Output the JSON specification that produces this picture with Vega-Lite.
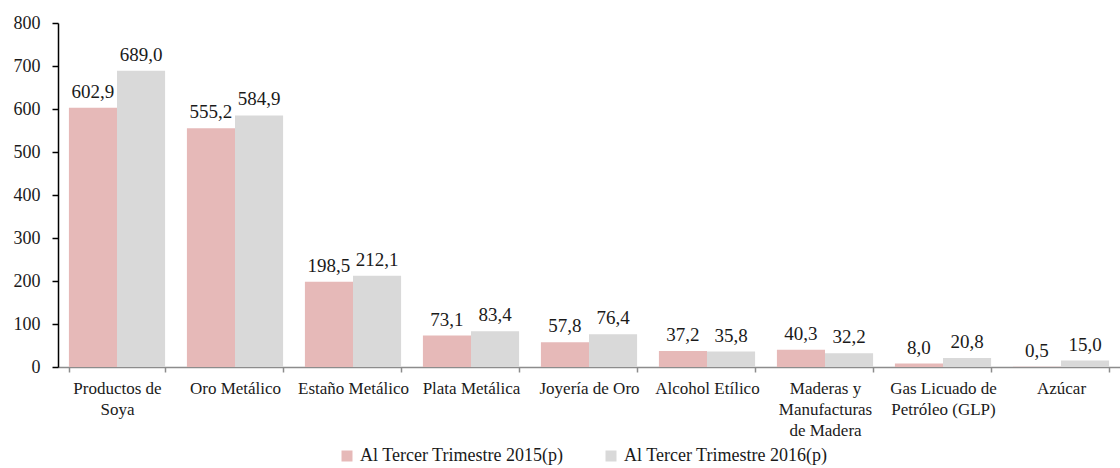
{
  "$schema": "https://vega.github.io/schema/vega-lite/v6.json",
  "autosize": {"type": "none"},
  "padding": {"left": 58, "top": 23, "right": 0, "bottom": 101},
  "width": 1062,
  "height": 344,
  "background": "white",
  "config": {
    "view": {"stroke": null},
    "font": "Liberation Serif",
    "locale": {"number": {"decimal": ",", "thousands": ".", "grouping": [3], "currency": ["", ""]}}
  },
  "data": {
    "values": [
      {"producto": "Productos de Soya", "serie": "Al Tercer Trimestre 2015(p)", "valor": 602.9},
      {"producto": "Productos de Soya", "serie": "Al Tercer Trimestre 2016(p)", "valor": 689.0},
      {"producto": "Oro Metálico", "serie": "Al Tercer Trimestre 2015(p)", "valor": 555.2},
      {"producto": "Oro Metálico", "serie": "Al Tercer Trimestre 2016(p)", "valor": 584.9},
      {"producto": "Estaño Metálico", "serie": "Al Tercer Trimestre 2015(p)", "valor": 198.5},
      {"producto": "Estaño Metálico", "serie": "Al Tercer Trimestre 2016(p)", "valor": 212.1},
      {"producto": "Plata Metálica", "serie": "Al Tercer Trimestre 2015(p)", "valor": 73.1},
      {"producto": "Plata Metálica", "serie": "Al Tercer Trimestre 2016(p)", "valor": 83.4},
      {"producto": "Joyería de Oro", "serie": "Al Tercer Trimestre 2015(p)", "valor": 57.8},
      {"producto": "Joyería de Oro", "serie": "Al Tercer Trimestre 2016(p)", "valor": 76.4},
      {"producto": "Alcohol Etílico", "serie": "Al Tercer Trimestre 2015(p)", "valor": 37.2},
      {"producto": "Alcohol Etílico", "serie": "Al Tercer Trimestre 2016(p)", "valor": 35.8},
      {"producto": "Maderas y Manufacturas de Madera", "serie": "Al Tercer Trimestre 2015(p)", "valor": 40.3},
      {"producto": "Maderas y Manufacturas de Madera", "serie": "Al Tercer Trimestre 2016(p)", "valor": 32.2},
      {"producto": "Gas Licuado de Petróleo (GLP)", "serie": "Al Tercer Trimestre 2015(p)", "valor": 8.0},
      {"producto": "Gas Licuado de Petróleo (GLP)", "serie": "Al Tercer Trimestre 2016(p)", "valor": 20.8},
      {"producto": "Azúcar", "serie": "Al Tercer Trimestre 2015(p)", "valor": 0.5},
      {"producto": "Azúcar", "serie": "Al Tercer Trimestre 2016(p)", "valor": 15.0}
    ]
  },
  "encoding": {
    "x": {
      "field": "producto", "type": "nominal", "sort": null,
      "scale": {"paddingInner": 0.185, "paddingOuter": 0.0925},
      "axis": {
        "title": null, "labelAngle": 0, "tickBand": "extent",
        "domainColor": "#8c8c8c", "domainWidth": 1.5, "tickColor": "#8c8c8c", "tickSize": 5, "tickWidth": 1.5,
        "labelFont": "Liberation Serif", "labelFontSize": 17, "labelColor": "#1a1a1a", "labelPadding": 8, "labelLineHeight": 21, "labelBaseline": "top",
        "labelLimit": 200,
        "labelExpr": "datum.label == 'Productos de Soya' ? ['Productos de', 'Soya'] : datum.label == 'Maderas y Manufacturas de Madera' ? ['Maderas y', 'Manufacturas', 'de Madera'] : datum.label == 'Gas Licuado de Petróleo (GLP)' ? ['Gas Licuado de', 'Petróleo (GLP)'] : datum.label"
      }
    },
    "xOffset": {"field": "serie", "type": "nominal"},
    "y": {
      "field": "valor", "type": "quantitative",
      "scale": {"domain": [0, 800], "nice": false},
      "axis": {
        "title": null, "values": [0, 100, 200, 300, 400, 500, 600, 700, 800], "grid": false,
        "domainColor": "black", "domainWidth": 1.5, "tickColor": "black", "tickSize": 6, "tickWidth": 1.5,
        "labelFont": "Liberation Serif", "labelFontSize": 18, "labelColor": "#1a1a1a", "labelPadding": 12, "format": "d"
      }
    }
  },
  "layer": [
    {
      "mark": {"type": "bar"},
      "encoding": {
        "color": {
          "field": "serie", "type": "nominal",
          "scale": {"range": ["#e6b9b8", "#d9d9d9"]},
          "legend": {
            "title": null, "orient": "none", "direction": "horizontal",
            "legendX": 280, "legendY": 424,
            "symbolType": "square", "symbolSize": 121, "symbolStrokeWidth": 0,
            "labelFont": "Liberation Serif", "labelFontSize": 18, "labelColor": "#1a1a1a", "columnPadding": 38, "labelOffset": 4, "labelLimit": 300
          }
        }
      }
    },
    {
      "mark": {"type": "text", "baseline": "alphabetic", "dy": -10, "fontSize": 19, "color": "#1a1a1a", "font": "Liberation Serif"},
      "encoding": {
        "text": {"field": "valor", "type": "quantitative", "format": ".1f"}
      }
    }
  ]
}
